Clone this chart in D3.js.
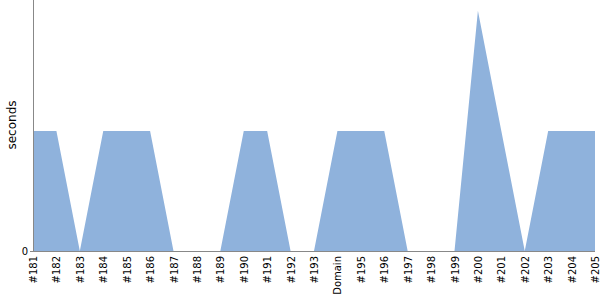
<!DOCTYPE html>
<html>
<head>
<meta charset="utf-8">
<script src="https://cdn.jsdelivr.net/npm/d3@7"></script>
<style>
  body { margin: 0; background: #fff; }
  svg { display: block; }
  .axis path, .axis line { stroke: #888; }
  .axis text { fill: #000; }
</style>
</head>
<body>
<svg width="600" height="300"></svg>
<script>
// categories along the x axis
var labels = ["#181","#182","#183","#184","#185","#186","#187","#188","#189","#190",
              "#191","#192","#193","Domain","#195","#196","#197","#198","#199","#200",
              "#201","#202","#203","#204","#205"];
// seconds per category
var seconds = [1,1,0,1,1,1,0,0,0,1,
               1,0,0,1,1,1,0,0,0,2,
               1,0,1,1,1];
var yTicks = [0];

var svg = d3.select("svg"),
    margin = {top: 0, right: 5, bottom: 49, left: 33},
    width = svg.attr("width") - margin.left - margin.right,
    height = svg.attr("height") - margin.top - margin.bottom,
    g = svg.append("g").attr("transform", "translate(" + margin.left + "," + margin.top + ")");

var data = labels.map(function(l, i) { return {label: l, value: seconds[i]}; });

var x = d3.scalePoint().domain(labels).range([0, width]),
    y = d3.scaleLinear().domain([0, d3.max(seconds) * 1.045]).range([height, 0]);

var area = d3.area()
    .x(function(d) { return x(d.label); })
    .y0(height)
    .y1(function(d) { return y(d.value); });

g.append("path")
    .datum(data)
    .attr("fill", "#8fb2dc")
    .attr("d", area);

// x axis
var xAxis = g.append("g")
    .attr("class", "axis axis--x")
    .attr("transform", "translate(0," + height + ")")
    .attr("font-family", "DejaVu Sans")
    .attr("font-size", 10)
    .call(d3.axisBottom(x).tickSize(0).tickPadding(0));
xAxis.attr("font-family", "DejaVu Sans");
xAxis.select(".domain").attr("d", "M0,0.5H" + width);
xAxis.selectAll("text")
    .attr("transform", "rotate(-90)")
    .attr("x", -5)
    .attr("y", 0)
    .attr("dy", "0.35em")
    .style("text-anchor", "end");

// y axis
var yAxis = g.append("g")
    .attr("class", "axis axis--y")
    .call(d3.axisLeft(y).tickValues(yTicks).tickFormat(d3.format("d")).tickSize(3).tickPadding(2));
yAxis.attr("font-family", "DejaVu Sans");
yAxis.select(".domain").attr("d", "M0.5," + height + "V0");

svg.append("text")
    .attr("transform", "rotate(-90)")
    .attr("x", -125)
    .attr("y", 16)
    .attr("text-anchor", "middle")
    .attr("font-family", "DejaVu Sans")
    .style("font-size", "12px")
    .text("seconds");
</script>
</body>
</html>
